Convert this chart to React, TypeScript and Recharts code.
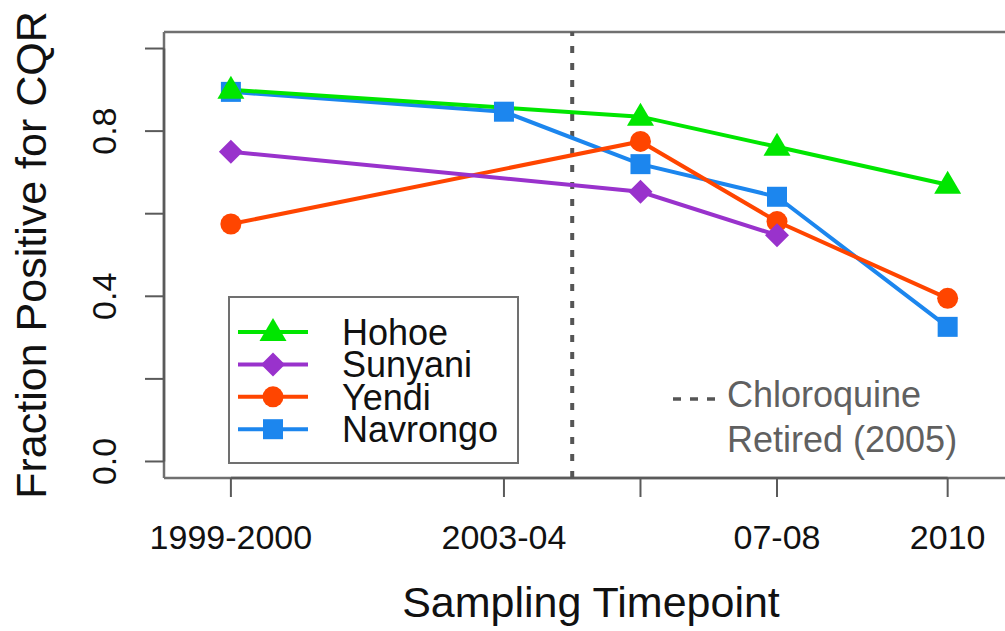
import { CartesianGrid, Customized, Line, LineChart, ReferenceLine, XAxis, YAxis } from "recharts";

// sampling timepoints on a year scale, with their printed labels
const timepoints = [1999.5, 2003.5, 2005.5, 2007.5, 2010];
const tickLabels = ["1999-2000", "2003-04", "", "07-08", "2010"];

// fraction positive for CQR per site (null = not sampled)
const hohoe = [0.9, null, 0.835, 0.762, 0.67];
const sunyani = [0.75, null, 0.653, 0.548, null];
const yendi = [0.575, null, 0.775, 0.581, 0.395];
const navrongo = [0.895, 0.847, 0.72, 0.641, 0.326];

const yTicks = [0, 0.2, 0.4, 0.6, 0.8, 1.0];
const yLabelled = [0, 0.4, 0.8];
const retiredAt = 2004.5;

const X_DOMAIN: [number, number] = [1998.52, 2010.84];
const Y_DOMAIN: [number, number] = [-0.04, 1.04];

const FONT = "'Liberation Sans', Arial, Helvetica, sans-serif";
const BOX = "#707070";
const TICK = "#5a5a5a";

const SERIES = [
  { key: "navrongo", name: "Navrongo", color: "#1c86ee", shape: "square" },
  { key: "yendi", name: "Yendi", color: "#ff4500", shape: "circle" },
  { key: "sunyani", name: "Sunyani", color: "#9932cc", shape: "diamond" },
  { key: "hohoe", name: "Hohoe", color: "#00e600", shape: "triangle" }
];
const LEGEND_ORDER = ["hohoe", "sunyani", "yendi", "navrongo"];

const rows = timepoints.map((x, i) => ({
  x,
  hohoe: hohoe[i],
  sunyani: sunyani[i],
  yendi: yendi[i],
  navrongo: navrongo[i]
}));

function Marker({ shape, cx, cy, color }: { shape: string; cx: number; cy: number; color: string }) {
  if (shape === "triangle") {
    return <polygon points={`${cx},${cy - 14} ${cx - 13.5},${cy + 9} ${cx + 13.5},${cy + 9}`} fill={color} />;
  }
  if (shape === "diamond") {
    return <polygon points={`${cx},${cy - 12} ${cx + 12},${cy} ${cx},${cy + 12} ${cx - 12},${cy}`} fill={color} />;
  }
  if (shape === "circle") {
    return <circle cx={cx} cy={cy} r={10.5} fill={color} />;
  }
  return <rect x={cx - 10} y={cy - 10} width={20} height={20} fill={color} />;
}

function XTick(props: any) {
  const { x, y, payload } = props;
  const label = tickLabels[timepoints.indexOf(payload.value)] ?? "";
  return (
    <text x={x} y={y + 50} textAnchor="middle" fontSize={34} fontFamily={FONT} fill="#111">
      {label}
    </text>
  );
}

function YTick(props: any) {
  const { y, payload } = props;
  const v = payload.value;
  if (!yLabelled.some((t) => Math.abs(t - v) < 1e-6)) return <g />;
  return (
    <text
      x={116}
      y={y}
      transform={`rotate(-90, 116, ${y})`}
      textAnchor="middle"
      fontSize={34}
      fontFamily={FONT}
      fill="#111"
    >
      {v.toFixed(1)}
    </text>
  );
}

function Extras() {
  const rowY = (i: number) => 332 + i * 32.4;
  return (
    <g>
      {/* legend */}
      <rect x={229} y={297} width={289} height={166} fill="#fff" stroke={BOX} strokeWidth={2} />
      {LEGEND_ORDER.map((k, i) => {
        const s = SERIES.find((d) => d.key === k)!;
        const y = rowY(i);
        return (
          <g key={k}>
            <line x1={238} x2={308} y1={y} y2={y} stroke={s.color} strokeWidth={4} />
            <Marker shape={s.shape} cx={273} cy={y} color={s.color} />
            <text x={342} y={y + 13} fontSize={36} fontFamily={FONT} fill="#111">
              {s.name}
            </text>
          </g>
        );
      })}

      {/* note for the dotted line */}
      <line x1={673} x2={715} y1={399} y2={399} stroke="#555" strokeWidth={3.5} strokeDasharray="8 9" />
      <text x={727} y={407} fontSize={36} fontFamily={FONT} fill="#606060">
        Chloroquine
      </text>
      <text x={727} y={452} fontSize={36} fontFamily={FONT} fill="#606060">
        Retired (2005)
      </text>

      {/* axis titles */}
      <text x={591} y={617} textAnchor="middle" fontSize={43} fontFamily={FONT} fill="#111">
        Sampling Timepoint
      </text>
      <text
        x={46}
        y={255}
        transform="rotate(-90, 46, 255)"
        textAnchor="middle"
        fontSize={43}
        fontFamily={FONT}
        fill="#111"
      >
        Fraction Positive for CQR
      </text>
    </g>
  );
}

export default function App() {
  return (
    <div style={{ position: "absolute", left: 0, top: 0, width: 1005, height: 631, background: "#fff" }}>
      <LineChart width={1005} height={631} data={rows} margin={{ top: 32, right: 0, bottom: 0, left: 0 }}>
        <CartesianGrid stroke="none" />
        <XAxis
          type="number"
          dataKey="x"
          domain={X_DOMAIN}
          allowDataOverflow
          ticks={timepoints}
          interval={0}
          height={153}
          tickSize={19}
          tickLine={{ stroke: TICK, strokeWidth: 2 }}
          axisLine={false}
          tick={<XTick />}
        />
        <YAxis
          type="number"
          domain={Y_DOMAIN}
          allowDataOverflow
          ticks={yTicks}
          interval={0}
          width={164}
          tickSize={19}
          tickLine={{ stroke: TICK, strokeWidth: 2 }}
          axisLine={false}
          tick={<YTick />}
        />

        {/* plot frame, open on the right */}
        <ReferenceLine y={Y_DOMAIN[1]} stroke={BOX} strokeWidth={2.5} ifOverflow="visible" />
        <ReferenceLine y={Y_DOMAIN[0]} stroke={BOX} strokeWidth={2.5} ifOverflow="visible" />
        <ReferenceLine x={X_DOMAIN[0]} stroke={BOX} strokeWidth={2.5} ifOverflow="visible" />
        <ReferenceLine
          segment={[
            { x: timepoints[0], y: Y_DOMAIN[0] },
            { x: timepoints[timepoints.length - 1], y: Y_DOMAIN[0] }
          ]}
          stroke={TICK}
          strokeWidth={2.5}
          ifOverflow="visible"
        />
        <ReferenceLine
          segment={[
            { x: X_DOMAIN[0], y: 0 },
            { x: X_DOMAIN[0], y: 1 }
          ]}
          stroke={TICK}
          strokeWidth={2.5}
          ifOverflow="visible"
        />

        <ReferenceLine x={retiredAt} stroke="#555" strokeWidth={4} strokeDasharray="7 10" />

        {SERIES.map((s) => (
          <Line
            key={s.key}
            type="linear"
            dataKey={s.key}
            name={s.name}
            stroke={s.color}
            strokeWidth={4}
            connectNulls
            isAnimationActive={false}
            dot={(p: any) =>
              p.cy == null || p.value == null ? (
                <g key={p.key ?? `${s.key}-${p.index}`} />
              ) : (
                <Marker key={p.key ?? `${s.key}-${p.index}`} shape={s.shape} cx={p.cx} cy={p.cy} color={s.color} />
              )
            }
            activeDot={false}
          />
        ))}

        <Customized component={Extras} />
      </LineChart>
    </div>
  );
}
